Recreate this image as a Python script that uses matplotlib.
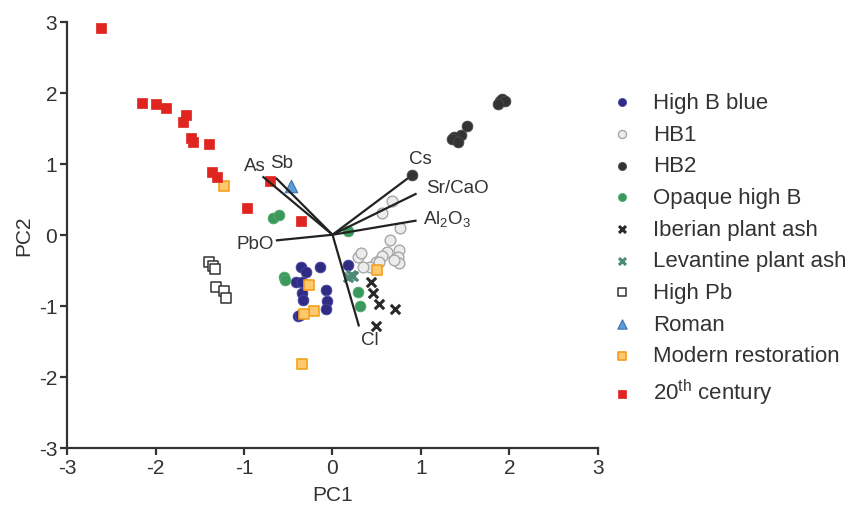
import numpy as np
import matplotlib.pyplot as plt

plt.rcParams["font.family"] = ["Liberation Sans", "DejaVu Sans"]
plt.rcParams["mathtext.fontset"] = "custom"
plt.rcParams["mathtext.rm"] = "Liberation Sans"
plt.rcParams["mathtext.it"] = "Liberation Sans:italic"

# ── scores per group (PC1, PC2) ─────────────────────────────────────────────
high_b_blue_x = [-0.36, -0.30, -0.14, -0.41, -0.34, -0.34, -0.33, -0.07, -0.06, -0.07, -0.39, -0.37, 0.18]
high_b_blue_y = [-0.46, -0.53, -0.46, -0.66, -0.66, -0.82, -0.92, -0.78, -0.93, -1.05, -1.15, -1.13, -0.42]

hb1_x = [0.67, 0.56, 0.76, 0.65, 0.75, 0.74, 0.75, 0.62, 0.56, 0.49, 0.42, 0.34, 0.29, 0.32, 0.53, 0.70]
hb1_y = [0.48, 0.31, 0.09, -0.07, -0.21, -0.31, -0.40, -0.24, -0.30, -0.38, -0.45, -0.45, -0.31, -0.26, -0.38, -0.35]

hb2_x = [1.89, 1.92, 1.95, 1.87, 1.52, 1.45, 1.37, 1.35, 1.42, 0.90]
hb2_y = [1.88, 1.91, 1.88, 1.84, 1.53, 1.41, 1.38, 1.34, 1.30, 0.84]

opaque_x = [-0.67, -0.61, -0.55, -0.54, 0.29, 0.31, 0.17]
opaque_y = [0.24, 0.28, -0.59, -0.64, -0.81, -1.00, 0.05]

iberian_x = [0.43, 0.46, 0.52, 0.71, 0.49]
iberian_y = [-0.66, -0.82, -0.97, -1.05, -1.29]

levantine_x = [0.21, 0.23, 0.18]
levantine_y = [-0.56, -0.58, -0.60]

high_pb_x = [-1.39, -1.35, -1.33, -1.32, -1.23, -1.20]
high_pb_y = [-0.38, -0.44, -0.48, -0.73, -0.79, -0.89]

roman_x = [-0.47]
roman_y = [0.69]

modern_x = [-1.23, -0.27, -0.21, -0.32, 0.50, -0.34]
modern_y = [0.68, -0.71, -1.07, -1.12, -0.49, -1.82]

c20_x = [-2.62, -2.15, -1.99, -1.88, -1.65, -1.69, -1.60, -1.58, -1.40, -1.36, -1.31, -0.97, -0.71, -0.36]
c20_y = [2.91, 1.86, 1.84, 1.78, 1.69, 1.58, 1.36, 1.31, 1.27, 0.88, 0.81, 0.37, 0.75, 0.20]

# ── loading vectors ─────────────────────────────────────────────────────────
vec_names = ["As", "Sb", "Cs", "Sr/CaO", r"Al$_2$O$_3$", "PbO", "Cl"]
vec_x = [-0.79, -0.64, 0.90, 0.95, 0.95, -0.64, 0.30]
vec_y = [0.82, 0.80, 0.84, 0.58, 0.20, -0.08, -1.29]

# label anchor positions (layout only)
lab_pos = [(-0.88, 0.97), (-0.58, 1.02), (0.99, 1.07), (1.41, 0.67),
           (1.30, 0.23), (-0.87, -0.13), (0.42, -1.48)]

fig = plt.figure(figsize=(8.48, 5.06), dpi=100)
ax = fig.add_axes([67 / 848, 1 - 449 / 506, (598 - 67) / 848, (449 - 22.5) / 506])

ms = 60
h1 = ax.scatter(high_b_blue_x, high_b_blue_y, s=ms, c="#2f2c86", edgecolors="#4a48a0", linewidths=0.6, zorder=2, label="High B blue")
h2 = ax.scatter(hb1_x, hb1_y, s=ms, c="#ececec", edgecolors="#a8a8a8", linewidths=1.0, zorder=2, label="HB1")
h3 = ax.scatter(hb2_x, hb2_y, s=ms, c="#333333", edgecolors="#4a4a4a", linewidths=0.6, zorder=4, label="HB2")
h4 = ax.scatter(opaque_x, opaque_y, s=ms, c="#3a9a5c", edgecolors="#55aa70", linewidths=0.6, zorder=2, label="Opaque high B")
h5 = ax.scatter(iberian_x, iberian_y, s=45, marker="x", c="#2a2a2a", linewidths=2.2, zorder=2, label="Iberian plant ash")
h6 = ax.scatter(levantine_x, levantine_y, s=45, marker="x", c="#4e8a7a", linewidths=2.2, zorder=2, label="Levantine plant ash")
h7 = ax.scatter(high_pb_x, high_pb_y, s=48, marker="s", c="white", edgecolors="#333333", linewidths=1.1, zorder=2, label="High Pb")
h8 = ax.scatter(roman_x, roman_y, s=80, marker="^", c="#5b9bd8", edgecolors="#3f74b0", linewidths=0.8, zorder=2, label="Roman")
h9 = ax.scatter(modern_x, modern_y, s=55, marker="s", c="#fdc86e", edgecolors="#f5a01e", linewidths=1.2, zorder=2, label="Modern restoration")
h10 = ax.scatter(c20_x, c20_y, s=55, marker="s", c="#e0241f", edgecolors="#e0241f", linewidths=0.5, zorder=2, label=r"20$^{\mathrm{th}}$ century")

for name, vx, vy, (tx, ty) in zip(vec_names, vec_x, vec_y, lab_pos):
    ax.plot([0, vx], [0, vy], color="#222222", lw=1.6, zorder=3, solid_capstyle="butt")
    ax.text(tx, ty, name, fontsize=13.5, color="#333333", ha="center", va="center", zorder=5)

ax.set_xlim(-3, 3)
ax.set_ylim(-3, 3)
ax.set_xticks(np.arange(-3, 4))
ax.set_yticks(np.arange(-3, 4))
ax.set_xticklabels([str(v) for v in range(-3, 4)])
ax.set_yticklabels([str(v) for v in range(-3, 4)])
for s in ["top", "right"]:
    ax.spines[s].set_visible(False)
for s in ["left", "bottom"]:
    ax.spines[s].set_linewidth(1.6)
    ax.spines[s].set_color("#333333")
ax.tick_params(direction="out", length=5, width=1.6, color="#333333",
               labelsize=15, labelcolor="#333333", pad=2)
ax.set_xlabel("PC1", fontsize=15, color="#333333", labelpad=6)
ax.set_ylabel("PC2", fontsize=15, color="#333333", labelpad=4)

leg = ax.legend(handles=[h1, h2, h3, h4, h5, h6, h7, h8, h9, h10],
                loc="upper left", bbox_to_anchor=(611 / 848, 1 - 93 / 506),
                bbox_transform=fig.transFigure, frameon=False, fontsize=16,
                handlelength=1.0, handletextpad=0.9, labelspacing=0.48,
                borderpad=0, borderaxespad=0, markerscale=0.75)
for t in leg.get_texts():
    t.set_color("#333333")

fig.savefig("out.png", dpi=100)
